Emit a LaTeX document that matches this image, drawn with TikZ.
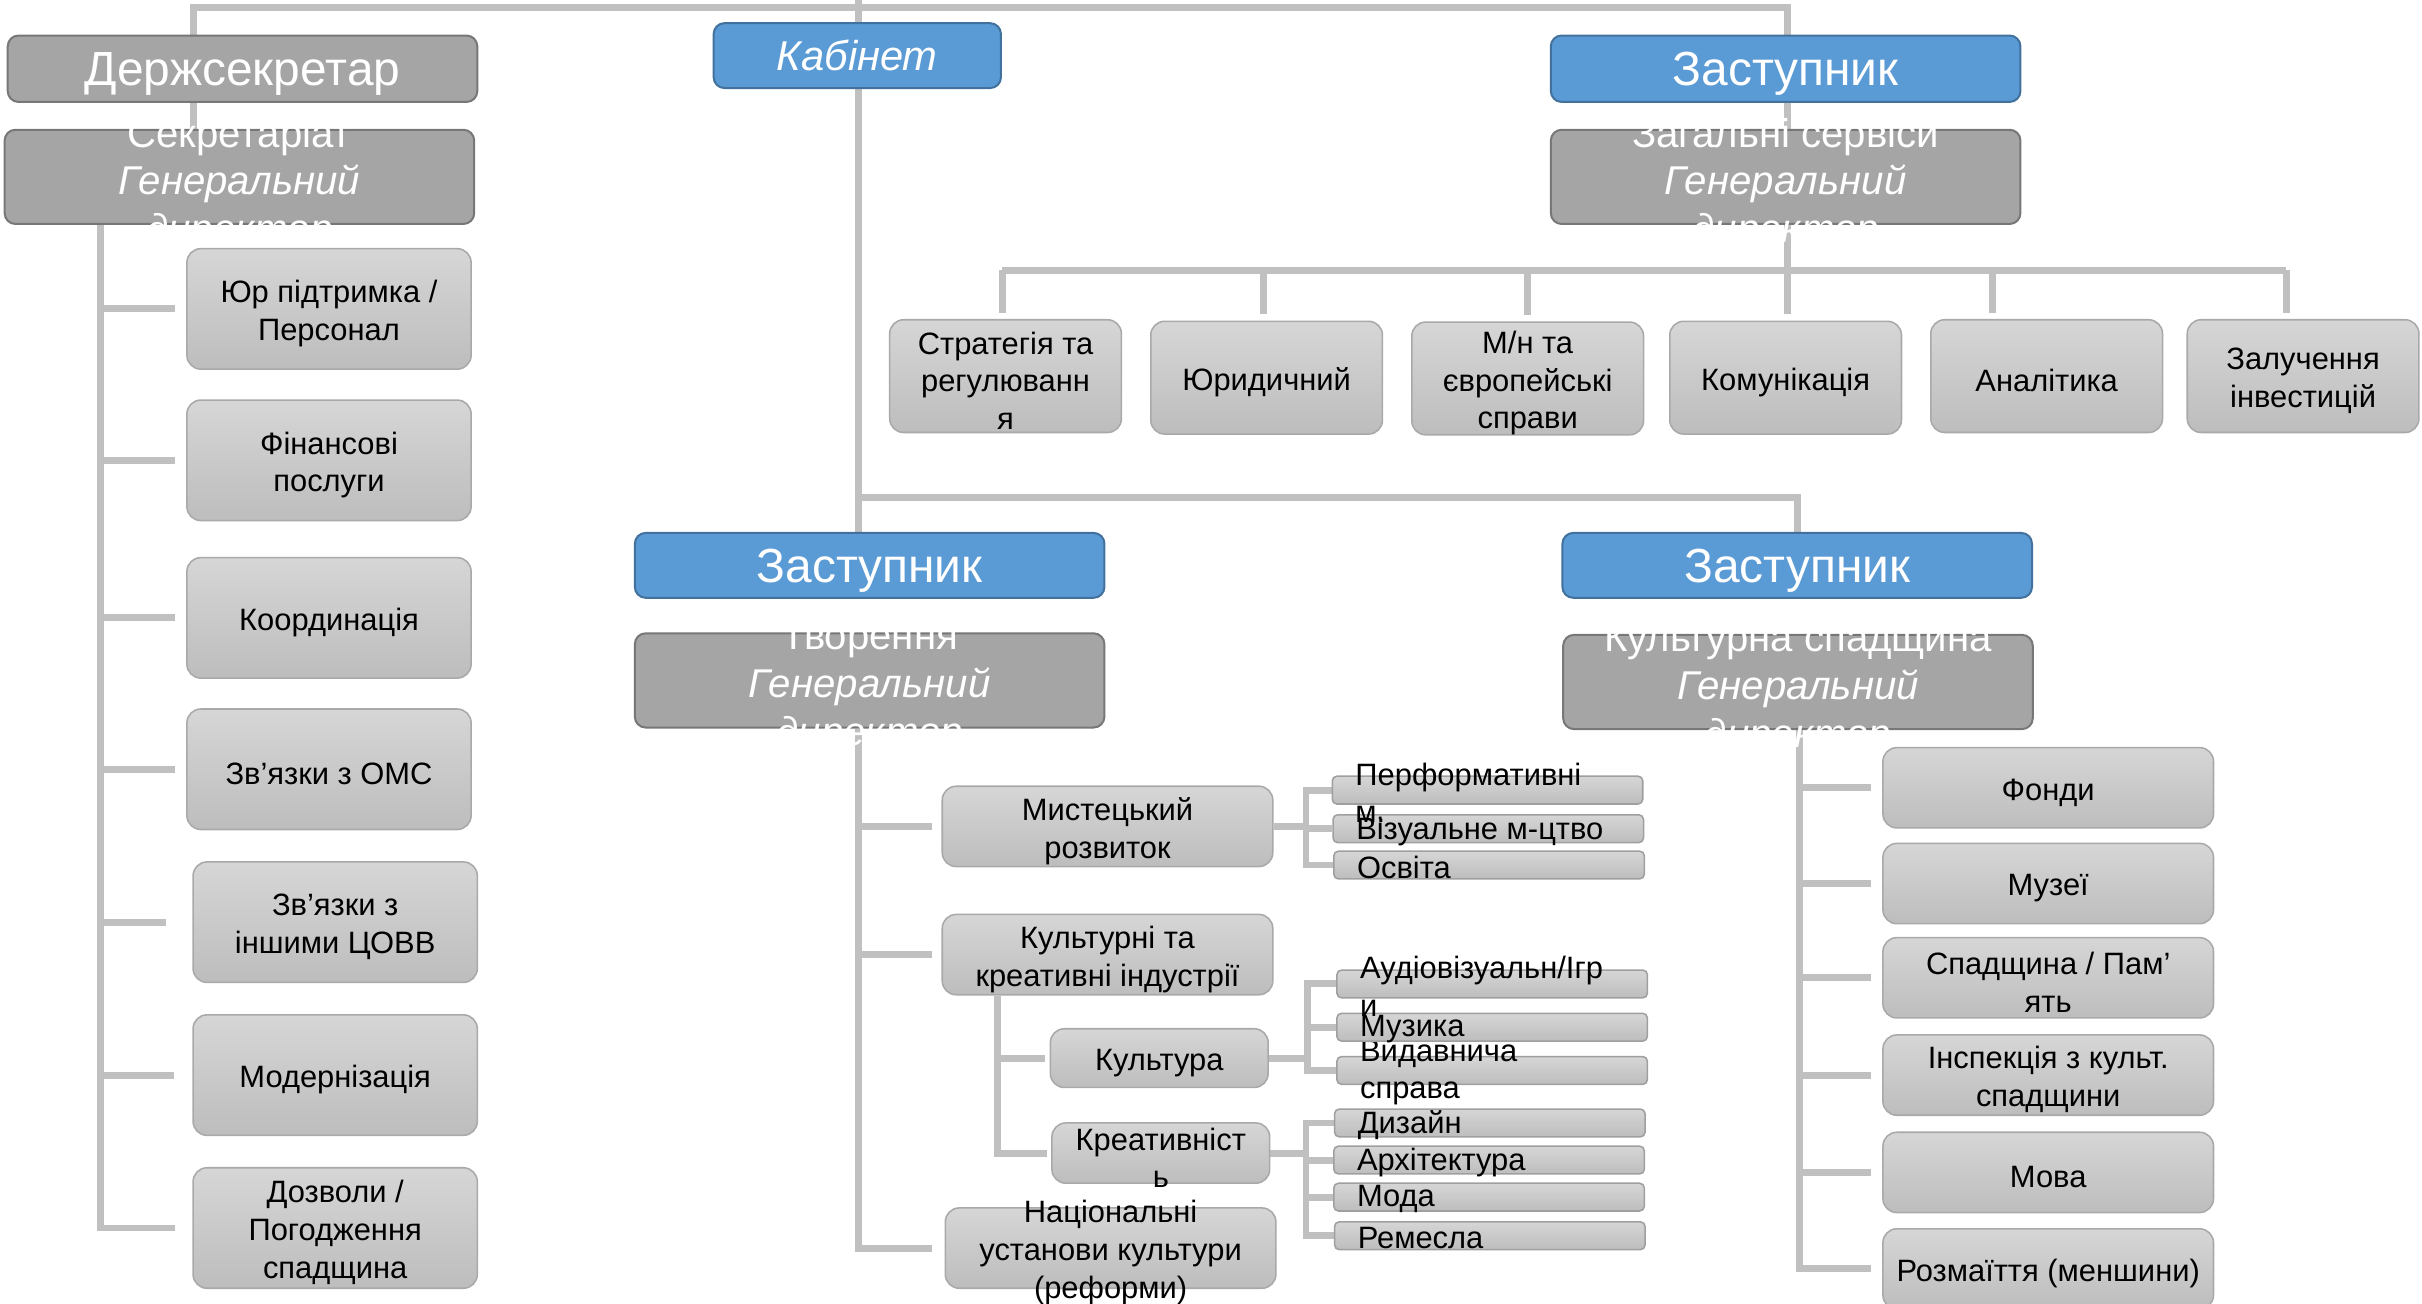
\documentclass[tikz,border=0pt]{standalone}
\usepackage{fontspec}
\setmainfont{Liberation Sans}
\usetikzlibrary{calc,backgrounds}

\definecolor{blu}{HTML}{5B9BD5}
\definecolor{bluedge}{HTML}{41719C}
\definecolor{hdrgray}{HTML}{A5A5A5}
\definecolor{hdredge}{HTML}{777777}
\definecolor{itmtop}{HTML}{D6D6D6}
\definecolor{itmbot}{HTML}{BDBDBD}
\definecolor{itmedge}{HTML}{A9A9A9}
\definecolor{lnkgray}{HTML}{C0C0C0}

\begin{document}
\begin{tikzpicture}[x=1pt,y=-1pt,
    box/.style={rounded corners=7pt,inner sep=0pt,align=center,line width=1.3pt},
    zast/.style={box,fill=blu,draw=bluedge,text=white,minimum width=304pt,minimum height=43pt,
        text depth=0pt,font=\fontsize{31}{36}\selectfont},
    hdr/.style={box,fill=hdrgray,draw=hdredge,minimum width=304pt,minimum height=61pt,
        label={[anchor=center,text=white,align=center,yshift=-5pt,font=\fontsize{26}{31}\selectfont]center:{#1}}},
    itm/.style={box,rounded corners=9pt,top color=itmtop,bottom color=itmbot,draw=itmedge,line width=1pt},
    ovl/.style={label={[anchor=center,align=center,yshift=-3pt,font=\fontsize{20}{24.5}\selectfont]center:{#1}}},
    sub/.style={itm,rounded corners=3pt,minimum width=201pt,minimum height=18pt,draw=gray!75,
        label={[anchor=west,xshift=12pt,yshift=-1.5pt,align=left,font=\fontsize{20}{24}\selectfont]west:{#1}}},
    lnk/.style={draw=lnkgray,line width=4.5pt}]
    \useasboundingbox (0,0) rectangle (1568,844);

    \node[zast,fill=hdrgray,draw=hdredge] (ds) at (157,44.5) {Держсекретар};
    \node[hdr={Секретаріат\\\textit{Генеральний}\\\textit{директор}}] (sec) at (155,114.5) {};
    \node[zast,minimum width=186pt,minimum height=42pt,font=\fontsize{27}{31}\selectfont\itshape] (kab) at (555,36) {Кабінет};
    \node[zast] (zg) at (1156,44.5) {Заступник};
    \node[hdr={Загальні сервіси\\\textit{Генеральний}\\\textit{директор}}] (gs) at (1156,114.5) {};
    \node[zast,minimum height=42pt] (zt) at (563,366) {Заступник};
    \node[hdr={Творення\\\textit{Генеральний}\\\textit{директор}}] (tv) at (563,440.5) {};
    \node[zast,minimum height=42pt] (zk) at (1163.5,366) {Заступник};
    \node[hdr={Культурна спадщина\\\textit{Генеральний}\\\textit{директор}}] (ks) at (1164,441.5) {};

    \foreach \n/\x/\y/\txt in {l1/213/200/{Юр підтримка /\\Персонал}, l2/213/298/{Фінансові\\послуги},
            l3/213/400/{Координація}, l4/213/498/{Зв’язки з ОМС}, l5/217/597/{Зв’язки з\\іншими ЦОВВ},
            l6/217/696/{Модернізація}, l7/217/795/{Дозволи /\\Погодження\\спадщина}} {
        \node[itm,minimum width=184pt,minimum height=78pt,ovl=\txt] (\n) at (\x,\y) {};
        }

    \foreach \n/\x/\y/\txt in {s1/651/243.5/{Стратегія та\\регулюванн\\я}, s2/820/244.5/{Юридичний},
            s3/989/245/{М/н та\\європейські\\справи}, s4/1156/244.5/{Комунікація},
            s5/1325/243.5/{Аналітика}, s6/1491/243.5/{Залучення\\інвестицій}} {
        \node[itm,minimum width=150pt,minimum height=73pt,ovl=\txt] (\n) at (\x,\y) {};
        }

    \node[itm,minimum width=214pt,minimum height=52pt,ovl={Мистецький\\розвиток}] (mr) at (717,535) {};
    \node[itm,minimum width=214pt,minimum height=52pt,ovl={Культурні та\\креативні індустрії}] (kk) at (717,618) {};
    \node[itm,minimum width=141pt,minimum height=38pt,ovl={Культура}] (kul) at (750.5,685) {};
    \node[itm,minimum width=141pt,minimum height=39pt,ovl={Креативніст\\ь}] (kre) at (751.5,746.5) {};
    \node[itm,minimum width=214pt,minimum height=52pt,ovl={Національні\\установи культури\\(реформи)}] (nat) at (719,808) {};

    \foreach \n/\x/\y/\txt in {p3/964/560/{Освіта}, p2/963.5/536.5/{Візуальне м-цтво},
            p1/963/511.5/{Перформативні\\м.}, c3/966/693/{Видавнича\\справа}, c2/966/665/{Музика},
            c1/966/637/{Аудіовізуальн/Ігр\\и}, d4/964.5/800/{Ремесла}, d3/964/775/{Мода},
            d2/964/751/{Архітектура}, d1/964.5/727/{Дизайн}} {
        \node[sub=\txt] (\n) at (\x,\y) {};
        }

    \foreach \n/\y/\txt in {h1/510/{Фонди}, h2/572/{Музеї}, h3/633/{Спадщина / Пам’\\ять},
            h4/696/{Інспекція з культ.\\спадщини}, h5/759/{Мова}, h6/821.5/{Розмаїття (меншини)}} {
        \node[itm,minimum width=214pt,minimum height=52pt,ovl=\txt] (\n) at (1326,\y) {};
        }

    \begin{scope}[on background layer]
        \coordinate (tl) at (125,5);
        \coordinate (tr) at (1157,5);
        \coordinate (kt) at (556,0);
        \coordinate (kb) at (0,322);
        \coordinate (hb) at (0,175);
        \coordinate (lx) at (65,0);
        \coordinate (kx) at (646,0);
        \coordinate (hx) at (1165,0);

        \draw[lnk] (sec.north -| tl) -- (tl) -- (tr) -- (hb -| tr);
        \draw[lnk] ($(s1.north |- hb)+(-2,0)$) -- ($(s6.north |- hb)+(-11,0)$);
        \foreach \n/\d in {s1/-2,s2/-2,s3/0,s4/1,s5/-35,s6/-11} {
            \draw[lnk] ($(\n.north |- hb)+(\d,0)$) -- ($(\n.north)+(\d,-4)$);
            }
        \foreach \n/\g in {l1/7,l2/7,l3/7,l4/7,l5/17,l6/12,l7/11} {
            \draw[lnk] (sec.south -| lx) |- ($(\n.west)+(-\g,0)$);
            }

        \draw[lnk] (kt) -- (zt.north -| kt);
        \draw[lnk] (kb -| kt) -| (zk.north);
        \foreach \n/\g in {mr/6,kk/6,nat/8} {
            \draw[lnk] (tv.south -| kt) |- ($(\n.west)+(-\g,0)$);
            }
        \foreach \n in {kul,kre} {
            \draw[lnk] (kk.south -| kx) |- ($(\n.west)+(-3,0)$);
            }
        \foreach \c in {p1,p2,p3} {
            \draw[lnk] (mr.east) -- ++(21,0) |- (\c.west);
            }
        \foreach \c in {c1,c2,c3} {
            \draw[lnk] (kul.east) -- ++(25,0) |- (\c.west);
            }
        \foreach \c in {d1,d2,d3,d4} {
            \draw[lnk] (kre.east) -- ++(23,0) |- (\c.west);
            }
        \foreach \n in {h1,h2,h3,h4,h5,h6} {
            \draw[lnk] (ks.south -| hx) |- ($(\n.west)+(-7,0)$);
            }
    \end{scope}
\end{tikzpicture}
\end{document}
